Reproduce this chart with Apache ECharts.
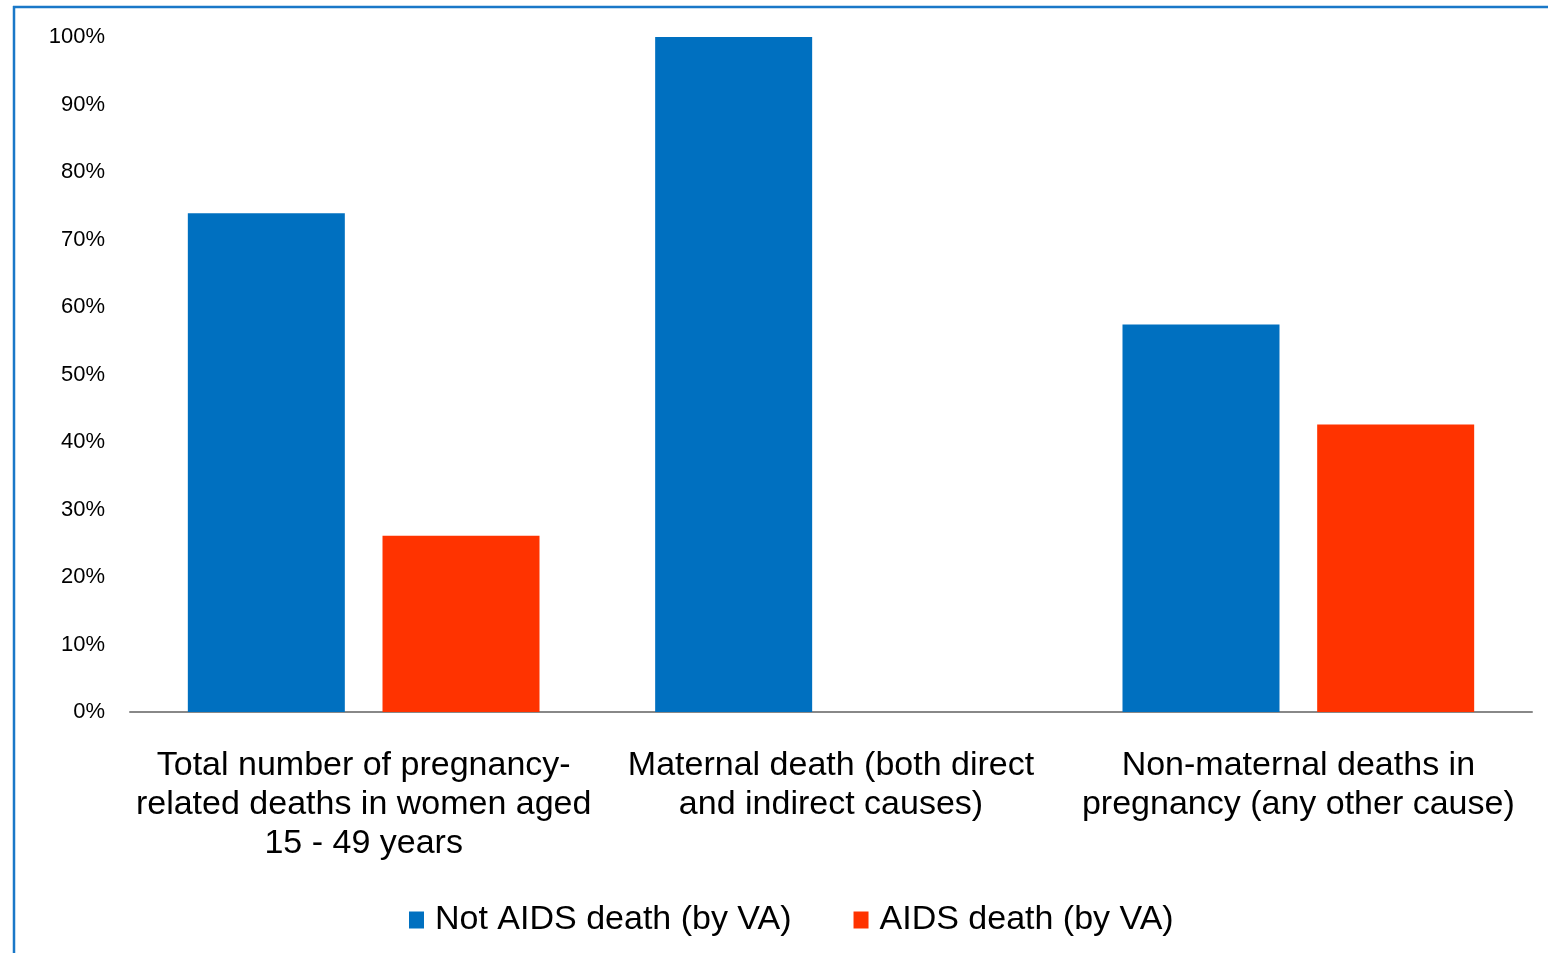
<!DOCTYPE html>
<html>
<head>
<meta charset="utf-8">
<script src="https://cdn.jsdelivr.net/npm/echarts@6/dist/echarts.min.js"></script>
<style>
  html, body { margin: 0; padding: 0; background: #fff; }
  #chart { width: 1548px; height: 953px; }
</style>
</head>
<body>
<div id="chart"></div>
<script>
const categories = [
  'Total number of pregnancy-\nrelated deaths in women aged\n15 - 49 years',
  'Maternal death (both direct\nand indirect causes)',
  'Non-maternal deaths in\npregnancy (any other cause)'
]
const notAids = [73.9, 100, 57.4]
const aids = [26.1, 0, 42.6]
const seriesNames = ['Not AIDS death (by VA)', 'AIDS death (by VA)']

const font = '"Liberation Sans", Arial, sans-serif'
const chart = echarts.init(document.getElementById('chart'))

chart.setOption({
  animation: false,
  textStyle: { fontFamily: font },
  grid: { left: 130, right: 16, top: 37, bottom: 241, containLabel: false },
  graphic: [
    { type: 'line', shape: { x1: 13, y1: 7, x2: 1548, y2: 7 }, style: { stroke: '#1a78c8', lineWidth: 2.5 } },
    { type: 'line', shape: { x1: 14, y1: 6, x2: 14, y2: 953 }, style: { stroke: '#1a78c8', lineWidth: 2.5 } }
  ],
  legend: {
    data: seriesNames,
    left: 409,
    top: 903,
    padding: 0,
    icon: 'rect',
    itemWidth: 15,
    itemHeight: 17,
    itemGap: 62,
    textStyle: { fontFamily: font, fontSize: 34, color: '#000', padding: [0, 0, 0, 6] }
  },
  xAxis: {
    type: 'category',
    data: categories,
    axisLine: { lineStyle: { color: '#888', width: 2 } },
    axisTick: { show: false },
    axisLabel: {
      interval: 0,
      color: '#000',
      fontFamily: font,
      fontSize: 34,
      lineHeight: 39,
      margin: 34
    }
  },
  yAxis: {
    type: 'value',
    min: 0,
    max: 100,
    interval: 10,
    axisLine: { show: false },
    axisTick: { show: false },
    splitLine: { show: false },
    axisLabel: {
      formatter: '{value}%',
      color: '#000',
      fontFamily: font,
      fontSize: 22,
      margin: 25,
      padding: [8, 0, 0, 0]
    }
  },
  series: [
    {
      name: seriesNames[0],
      type: 'bar',
      data: notAids,
      barWidth: 157,
      barGap: '24%',
      itemStyle: { color: '#0070c0' }
    },
    {
      name: seriesNames[1],
      type: 'bar',
      data: aids,
      barWidth: 157,
      itemStyle: { color: '#ff3300' }
    }
  ]
})
</script>
</body>
</html>
